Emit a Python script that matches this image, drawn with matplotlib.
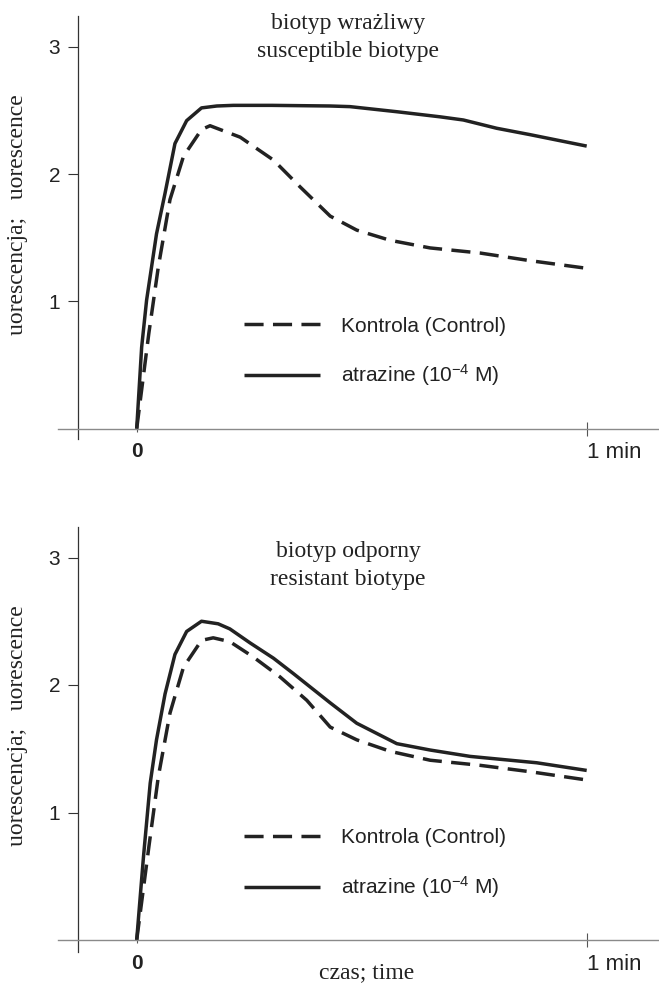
import matplotlib
matplotlib.use("Agg")
import matplotlib.pyplot as plt

plt.rcParams['mathtext.fontset'] = 'custom'
plt.rcParams['mathtext.rm'] = 'Liberation Sans'
plt.rcParams['mathtext.default'] = 'regular'

# ---- data ----
sus_atr_t = [0, 0.011, 0.022, 0.033, 0.044, 0.063, 0.085, 0.111, 0.144, 0.178, 0.215, 0.30,
             0.43, 0.474, 0.578, 0.674, 0.726, 0.80, 0.874, 1.0]
sus_atr_y = [0, 0.64, 1.01, 1.27, 1.53, 1.85, 2.24, 2.42, 2.52, 2.535, 2.54, 2.54,
             2.535, 2.53, 2.49, 2.45, 2.425, 2.36, 2.31, 2.22]
sus_ctl_t = [0, 0.027, 0.048, 0.074, 0.104, 0.144, 0.163, 0.23, 0.304, 0.363, 0.43,
             0.489, 0.563, 0.652, 0.763, 0.874, 1.0]
sus_ctl_y = [0, 0.75, 1.27, 1.80, 2.14, 2.35, 2.38, 2.29, 2.11, 1.90, 1.67,
             1.56, 1.48, 1.42, 1.38, 1.32, 1.26]

res_atr_t = [0, 0.015, 0.03, 0.044, 0.063, 0.085, 0.111, 0.144, 0.181, 0.207, 0.252, 0.304,
             0.348, 0.43, 0.489, 0.578, 0.652, 0.741, 0.889, 1.0]
res_atr_y = [0, 0.65, 1.23, 1.57, 1.93, 2.24, 2.42, 2.50, 2.48, 2.44, 2.33, 2.21,
             2.09, 1.86, 1.70, 1.54, 1.49, 1.44, 1.39, 1.33]
res_ctl_t = [0, 0.027, 0.048, 0.074, 0.104, 0.144, 0.17, 0.207, 0.259, 0.318, 0.378, 0.43,
             0.489, 0.563, 0.652, 0.763, 0.874, 1.0]
res_ctl_y = [0, 0.73, 1.28, 1.78, 2.14, 2.35, 2.37, 2.34, 2.22, 2.065, 1.88, 1.67,
             1.57, 1.48, 1.41, 1.37, 1.32, 1.255]

y_ticks = [1, 2, 3]
x_ticks = [0, 1]
x_tick_labels = ['0', '1 min']
legend_labels = ['Kontrola (Control)', 'atrazine (10$^{-4}$ M)']
titles = [('biotyp wrażliwy', 'susceptible biotype'), ('biotyp odporny', 'resistant biotype')]
ylabel = 'uorescencja;   uorescence'
xlabel = 'czas; time'

W, H = 659, 985
fig = plt.figure(figsize=(W / 100, H / 100), dpi=100)
INK = '#222222'
SANS = 'Liberation Sans'
SERIF = 'Liberation Serif'
LW = 2.5
DASH = (5.5, 2.7)


def px_axes(left, top, right, bottom):
    return fig.add_axes([left / W, 1 - bottom / H, (right - left) / W, (bottom - top) / H])


panels = [
    dict(top=15.7, bottom=439.0, y0=428.7, unit=127.3,
         atr=(sus_atr_t, sus_atr_y), ctl=(sus_ctl_t, sus_ctl_y),
         title=titles[0], tpy=(24, 52), leg_y=352.5, ylab_y=214.5),
    dict(top=526.7, bottom=951.7, y0=940.0, unit=127.5,
         atr=(res_atr_t, res_atr_y), ctl=(res_ctl_t, res_ctl_y),
         title=titles[1], tpy=(552, 580), leg_y=864.3, ylab_y=726),
]

x0px, xunit = 136.7, 450.0
left_px, right_px = 58.0, 659.0
yaxis_px = 77.7

for p in panels:
    ax = px_axes(left_px, p['top'], right_px, p['bottom'])
    ax.set_xlim((left_px - x0px) / xunit, (right_px - x0px) / xunit)
    ax.set_ylim((p['y0'] - p['bottom']) / p['unit'], (p['y0'] - p['top']) / p['unit'])
    ax.patch.set_visible(False)
    for s in ['top', 'right']:
        ax.spines[s].set_visible(False)
    ax.spines['left'].set_position(('data', (yaxis_px - x0px) / xunit))
    ax.spines['bottom'].set_position(('data', 0))
    ax.spines['left'].set_color('#333333')
    ax.spines['left'].set_linewidth(0.9)
    ax.spines['bottom'].set_color('#8a8a8a')
    ax.spines['bottom'].set_linewidth(1.0)

    ax.set_yticks(y_ticks)
    ax.set_yticklabels([str(v) for v in y_ticks], fontsize=15, family=SANS, color=INK)
    ax.tick_params(axis='y', direction='out', length=7, width=0.8, color='#333333', pad=5.5)

    ax.set_xticks(x_ticks)
    ax.set_xticklabels(x_tick_labels, fontsize=16, family=SANS, color=INK)
    ax.tick_params(axis='x', direction='inout', length=9.5, width=0.8, color='#555555', pad=5)
    xt = ax.xaxis.get_major_ticks()
    xt[0].tick1line.set_markersize(4)
    xt[0].tick1line.set_color('#222222')
    labs = ax.get_xticklabels()
    labs[0].set_fontweight('bold')
    labs[0].set_fontsize(15)
    labs[1].set_ha('left')

    l1, = ax.plot(p['ctl'][0], p['ctl'][1], color=INK, lw=LW, linestyle='--',
                  dash_capstyle='butt', solid_joinstyle='round', label=legend_labels[0])
    l1.set_dashes(DASH)
    l2, = ax.plot(p['atr'][0], p['atr'][1], color=INK, lw=LW, linestyle='-',
                  solid_joinstyle='round', solid_capstyle='butt', label=legend_labels[1])

    leg = ax.legend(handles=[l1, l2], loc='center left',
                    bbox_to_anchor=(244 / W, 1 - p['leg_y'] / H),
                    bbox_transform=fig.transFigure, frameon=False,
                    prop={'family': SANS, 'size': 15}, handlelength=3.65,
                    handletextpad=1.0, labelspacing=1.3, borderpad=0, borderaxespad=0)
    for t in leg.get_texts():
        t.set_color(INK)

    fig.text(348 / W, 1 - p['tpy'][0] / H, p['title'][0], ha='center', va='center',
             family=SERIF, fontsize=17, color=INK)
    fig.text(348 / W, 1 - p['tpy'][1] / H, p['title'][1], ha='center', va='center',
             family=SERIF, fontsize=17, color=INK)
    fig.text(18 / W, 1 - p['ylab_y'] / H, ylabel, rotation=90, ha='center', va='center',
             family=SERIF, fontsize=17, color=INK)

fig.text(367 / W, 1 - 973 / H, xlabel, ha='center', va='center',
         family=SERIF, fontsize=17, color=INK)

fig.savefig('out.png', dpi=100)
